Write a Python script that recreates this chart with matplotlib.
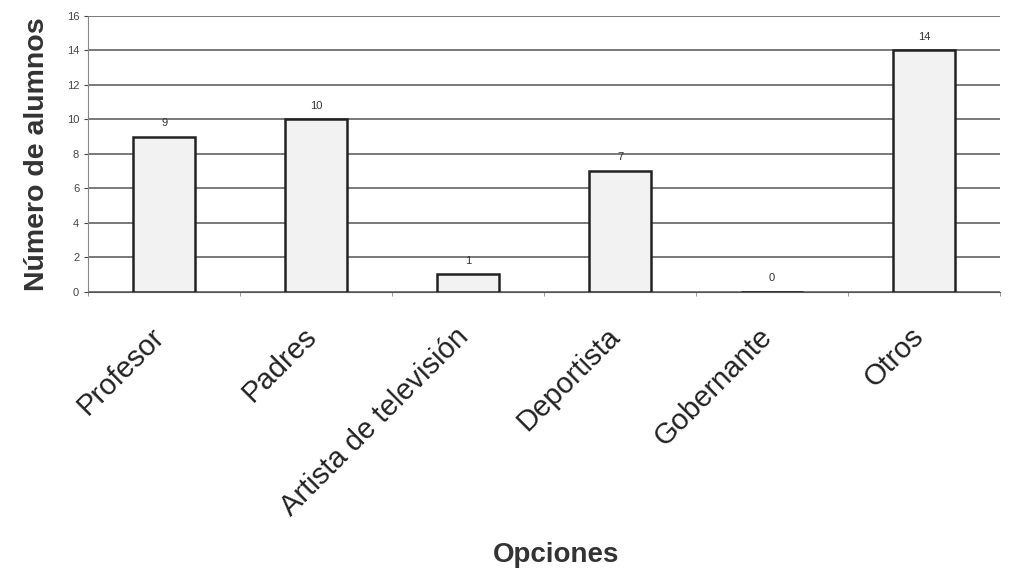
import numpy as np
import matplotlib.pyplot as plt
from matplotlib.transforms import ScaledTranslation

plt.rcParams['font.family'] = ['Liberation Sans', 'DejaVu Sans']

# Datos
opciones = ['Profesor', 'Padres', 'Artista de televisión', 'Deportista', 'Gobernante', 'Otros']
alumnos = [9, 10, 1, 7, 0, 14]

fig = plt.figure(figsize=(10.14, 5.72), dpi=100)
ax = fig.add_axes([0.087, 0.49, 0.899, 0.482])

x = np.arange(len(opciones))
bars = ax.bar(x, alumnos, width=0.41, color='#f2f2f2', edgecolor='#222222',
              linewidth=1.8, zorder=3)

for xi, v in zip(x, alumnos):
    ax.text(xi, v + 0.5, str(v), ha='center', va='bottom', fontsize=8, color='#333333')

ax.set_xlim(-0.5, len(opciones) - 0.5)
ax.set_ylim(0, 16)
ax.set_yticks(range(0, 17, 2))
ax.tick_params(axis='y', labelsize=8, colors='#444444', length=3)
ax.yaxis.grid(True, color='#555555', linewidth=1.1, zorder=0)

# etiquetas en el centro, marcas en los límites de categoría
ax.set_xticks(x)
ax.set_xticklabels(opciones, rotation=45, ha='right', rotation_mode='anchor',
                   fontsize=21, color='#222222')
ax.tick_params(axis='x', length=0, pad=22)
shift = ScaledTranslation(-14 / 100, 0, fig.dpi_scale_trans)
for lbl in ax.get_xticklabels():
    lbl.set_transform(lbl.get_transform() + shift)
ax.set_xticks(np.arange(-0.5, len(opciones)), minor=True)
ax.tick_params(axis='x', which='minor', length=3, color='#888888')

for s in ['top', 'right']:
    ax.spines[s].set_visible(False)
ax.spines['left'].set_color('#888888')
ax.spines['left'].set_linestyle((0, (2, 1)))
ax.spines['bottom'].set_color('#555555')

ax.set_ylabel('Número de alumnos', fontsize=20.5, fontweight='bold', color='#333333', labelpad=12)
fig.text(0.548, 0.03, 'Opciones', ha='center', va='center', fontsize=20,
         fontweight='bold', color='#333333')

plt.savefig('out.png', dpi=100)
